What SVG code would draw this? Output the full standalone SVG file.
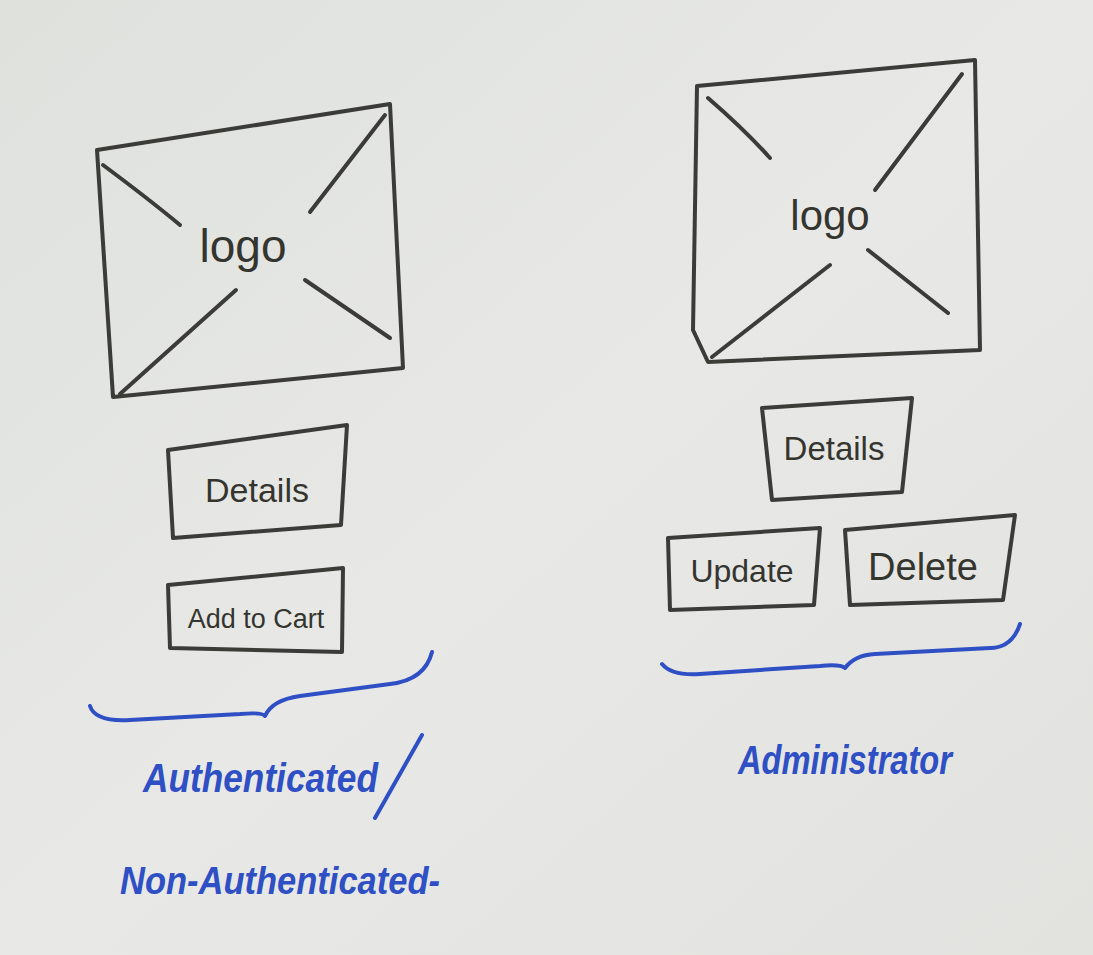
<svg xmlns="http://www.w3.org/2000/svg" width="1093" height="955" viewBox="0 0 1093 955">
<defs>
<linearGradient id="bg" x1="0" y1="0" x2="1" y2="1">
<stop offset="0" stop-color="#dfe1dd"/>
<stop offset="0.5" stop-color="#e8e9e6"/>
<stop offset="1" stop-color="#e2e3df"/>
</linearGradient>
</defs>
<style>
.ink{fill:none;stroke:#3b3b37;stroke-width:4;stroke-linecap:round;stroke-linejoin:round}
.blue{fill:none;stroke:#2f4fc4;stroke-width:4;stroke-linecap:round;stroke-linejoin:round}
.t{font-family:"Liberation Sans",Arial,sans-serif;fill:#35352f}
.b{font-family:"Liberation Sans",Arial,sans-serif;fill:#2f4fc4;font-style:italic;font-weight:bold}
</style>
<rect width="1093" height="955" fill="url(#bg)"/>
<g id="logo-left">
<path class="ink" d="M97,150 L390,104 L403,368 L113,397 Z"/>
<path class="ink" d="M103,165 Q150,200 180,225"/>
<path class="ink" d="M385,115 L310,212"/>
<path class="ink" d="M236,290 L120,394"/>
<path class="ink" d="M305,280 L390,338"/>
<text class="t" x="243" y="262" font-size="46" text-anchor="middle">logo</text>
</g>
<g id="logo-right">
<path class="ink" d="M697,86 L975,60 L980,350 L708,362 L693,330 Z"/>
<path class="ink" d="M708,98 Q745,130 770,158"/>
<path class="ink" d="M962,74 L875,190"/>
<path class="ink" d="M830,265 L712,357"/>
<path class="ink" d="M868,250 L948,313"/>
<text class="t" x="830" y="230" font-size="42" text-anchor="middle">logo</text>
</g>
<g id="details-left">
<path class="ink" d="M168,450 L347,425 L341,525 L173,538 Z"/>
<text class="t" x="257" y="502" font-size="34" text-anchor="middle">Details</text>
</g>
<g id="addtocart-left">
<path class="ink" d="M168,585 L343,568 L342,652 L170,648 Z"/>
<text class="t" x="256" y="628" font-size="27" text-anchor="middle">Add to Cart</text>
</g>
<g id="details-right">
<path class="ink" d="M762,408 L912,398 L902,492 L772,500 Z"/>
<text class="t" x="834" y="460" font-size="33" text-anchor="middle">Details</text>
</g>
<g id="update-right">
<path class="ink" d="M668,538 L820,528 L814,605 L670,610 Z"/>
<text class="t" x="742" y="582" font-size="32" text-anchor="middle">Update</text>
</g>
<g id="delete-right">
<path class="ink" d="M845,530 L1015,515 L1003,600 L850,605 Z"/>
<text class="t" x="923" y="580" font-size="38" text-anchor="middle">Delete</text>
</g>
<g id="brace-left">
<path class="blue" d="M90,706 Q95,722 130,720 L240,714 Q262,712 265,716 Q272,700 300,696 L390,684 Q425,680 432,652"/>
</g>
<g id="brace-right">
<path class="blue" d="M662,664 Q672,676 700,674 L820,666 Q840,664 845,668 Q855,655 875,654 L990,648 Q1012,648 1020,624"/>
</g>
<g id="label-left">
<text class="b" x="143" y="792" font-size="40" textLength="235" lengthAdjust="spacingAndGlyphs">Authenticated</text>
<path class="blue" d="M422,735 L375,818"/>
<text class="b" x="120" y="894" font-size="38" textLength="320" lengthAdjust="spacingAndGlyphs">Non-Authenticated-</text>
</g>
<g id="label-right">
<text class="b" x="738" y="774" font-size="40" textLength="214" lengthAdjust="spacingAndGlyphs">Administrator</text>
</g>
</svg>
